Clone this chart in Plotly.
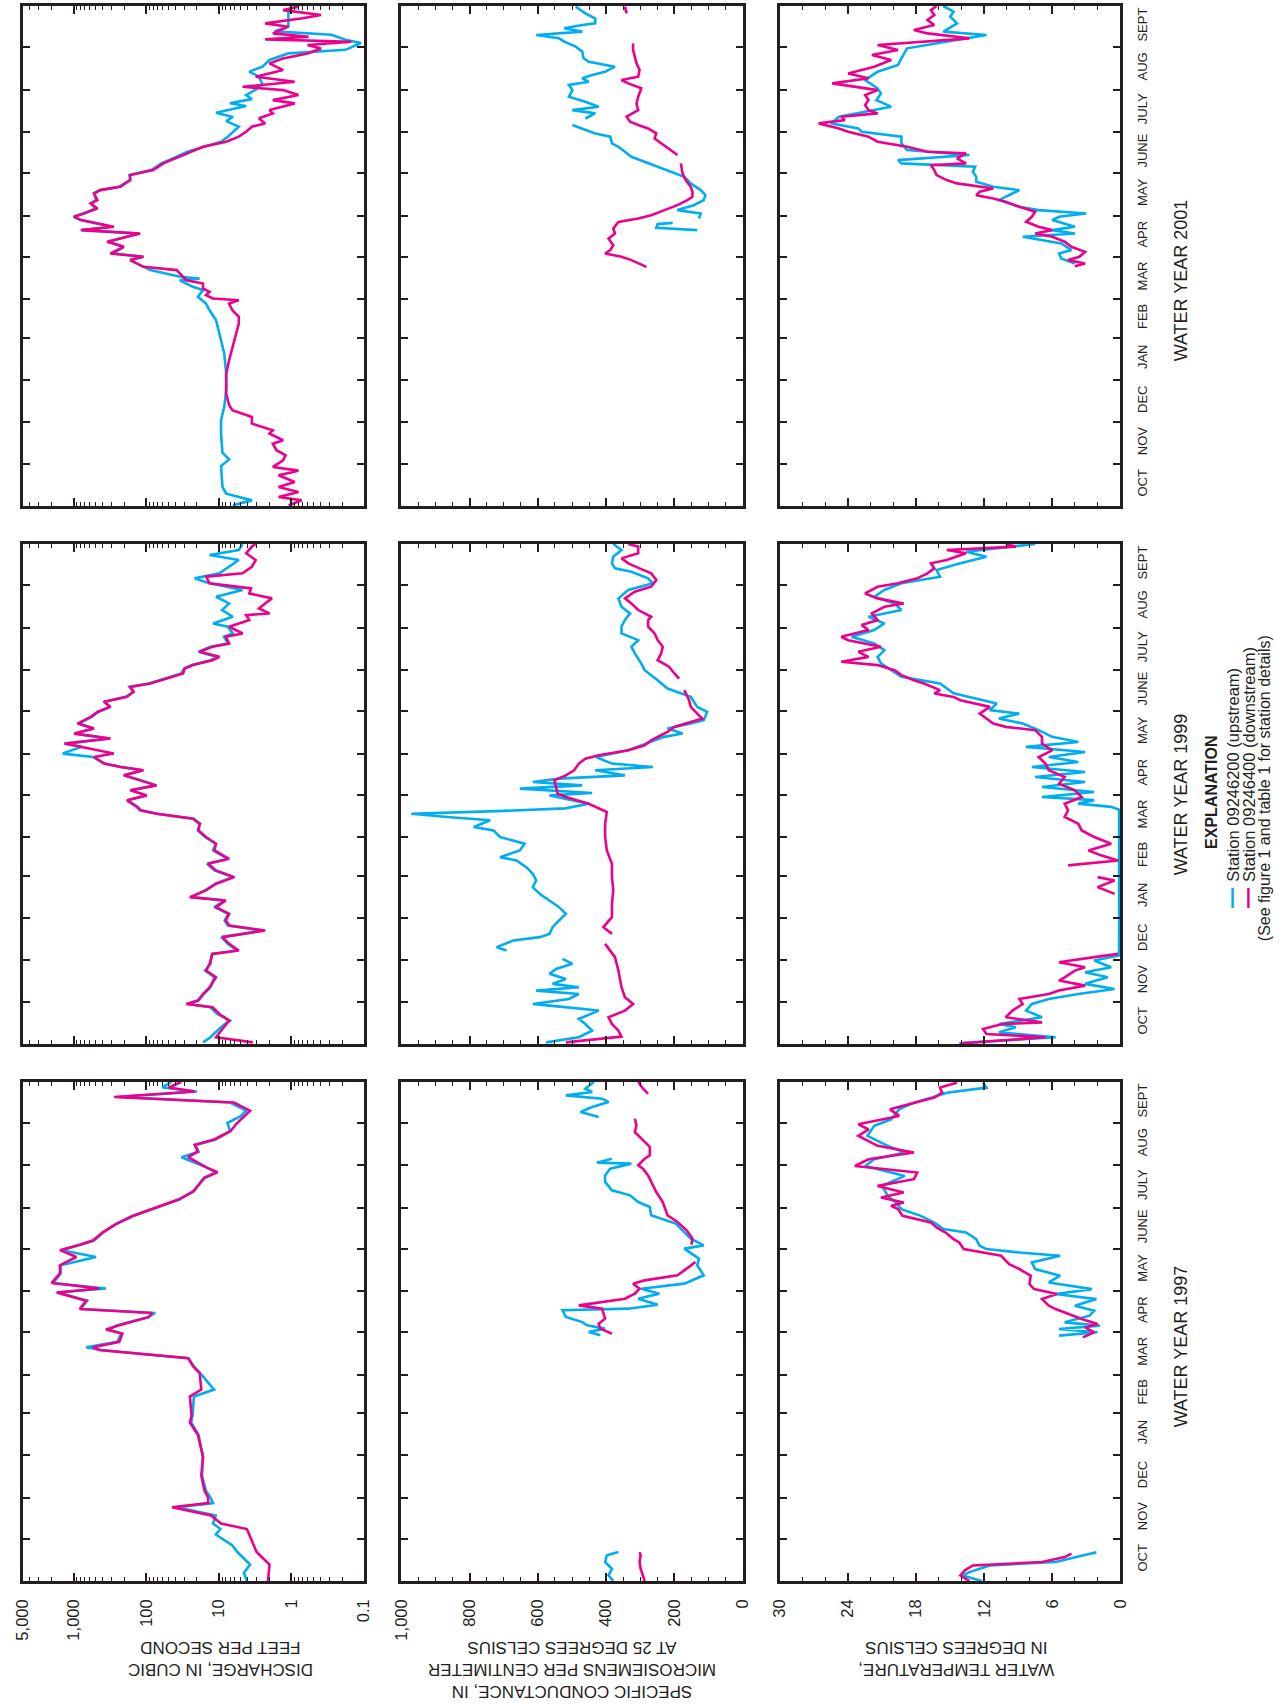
import math
import plotly.graph_objects as go

# ---------------- categories / labels ----------------
MONTHS = ["OCT", "NOV", "DEC", "JAN", "FEB", "MAR", "APR", "MAY", "JUNE", "JULY", "AUG", "SEPT"]
MONTH_DAYS = [31, 30, 31, 31, 28, 31, 30, 31, 30, 31, 31, 30]
YEARS = ["WATER YEAR 2001", "WATER YEAR 1999", "WATER YEAR 1997"]  # top -> bottom rows

Q_TICKS = [5000, 1000, 100, 10, 1, 0.1]
Q_TICKTEXT = ["5,000", "1,000", "100", "10", "1", "0.1"]
C_TICKS = [1000, 800, 600, 400, 200, 0]
C_TICKTEXT = ["1,000", "800", "600", "400", "200", "0"]
T_TICKS = [30, 24, 18, 12, 6, 0]
T_TICKTEXT = ["30", "24", "18", "12", "6", "0"]

TITLES = [
    "DISCHARGE, IN CUBIC<br>FEET PER SECOND",
    "SPECIFIC CONDUCTANCE, IN<br>MICROSIEMENS PER CENTIMETER<br>AT 25 DEGREES CELSIUS",
    "WATER TEMPERATURE,<br>IN DEGREES CELSIUS",
]
LEGEND_UP = "Station 09246200 (upstream)"
LEGEND_DN = "Station 09246400 (downstream)"

# ---------------- data: (day of water year, value); None = missing ----------------
# Water year 1997
Q97_UP = [(0,4.1),(6,4.5),(12,3.7),(18,4.8),(21,5.5),(26,6.5),(30,8.4),(34,11),(38,9.5),(42,12),(48,11),(54,38),(57,12),(61,13),(66,15),(77,17),(91,16.5),(107,19),(116,24),(121,23),(135,22),(140,11.6),(152,18),(157,22),(163,26),(166,110),(169,430),(171,668),(175,250),(181,220),(184,330),(187,250),(193,95),(196,75),(199,800),(205,650),(211,1650),(214,358),(218,1900),(225,1500),(231,1500),(237,490),(242,1450),(246,800),(249,520),(255,390),(261,260),(267,150),(273,72),(279,35),(285,22),(291,18),(295,16),(299,11),(302,14),(310,32.6),(314,19),(319,21),(323,11),(329,7),(335,7.6),(340,5.0),(344,4.2),(350,7),(354,234),(358,20),(361,60),(365,45)]
Q97_DN = [(0,2.1),(12,2.0),(21,3.0),(30,3.5),(38,4.1),(42,9.3),(48,12.8),(54,44),(57,14),(61,14),(66,15.7),(77,17.4),(91,16.5),(107,19.4),(116,25),(121,23.7),(135,25),(140,17.4),(152,18.3),(157,22.5),(163,26.5),(166,114),(169,440),(171,540),(175,234),(181,213),(184,358),(187,234),(193,92),(196,83),(199,824),(205,670),(211,1710),(214,440),(218,2000),(225,1540),(231,1540),(237,914),(242,1540),(246,824),(249,543),(255,397),(261,262),(267,155),(273,75),(279,36),(285,22.5),(291,18.3),(295,15.7),(299,10.4),(302,14.2),(310,26.5),(314,19.4),(319,21.5),(323,11.6),(329,6.9),(335,5.6),(344,3.7),(350,6.2),(354,276),(358,21.5),(361,49),(365,33)]
C97_UP = [(0,379),(4.1,393),(9,383),(13.9,403),(18.8,398),(21.2,364),(100,None),(179.7,417),(182.1,451),(184.6,403),(187,456),(189.4,470),(193.1,518),(198,528),(199.2,335),(202.1,249),(206.5,306),(210.2,244),(213.8,297),(217.5,171),(223.6,114),(230.9,133),(235.8,128),(243.1,171),(245.5,114),(250.4,152),(255.3,171),(261.4,196),(267.5,268),(273.6,272),(277.2,306),(282.1,330),(285.8,383),(291.9,403),(296.7,403),(301.6,388),(305.3,326),(306,427),(308.9,383),(325,None),(339.4,422),(343.1,475),(346.7,441),(350.4,393),(352.8,412),(355.2,518),(357.7,441),(360.1,461),(365,436)]
C97_DN = [(0,287),(4.1,292),(9,299),(13.9,302),(18.8,299),(21.2,302),(100,None),(180.9,383),(184.6,417),(188.2,422),(191.9,403),(199.2,412),(201.6,480),(206.5,345),(210.2,316),(213.8,302),(217.5,321),(219.9,287),(223.6,191),(227.2,171),(233.3,138),(240,None),(246,150),(250.4,147),(256.5,164),(262.6,191),(267.5,220),(272.3,227),(277.2,234),(284.5,253),(291.9,268),(296.7,277),(301.6,292),(304,306),(308.9,287),(311.4,272),(317.5,272),(323.5,297),(328.4,316),(333.3,311),(338.2,316),(345,None),(356.5,277),(360.1,292),(365,306)]
T97_UP = [(0,12.2),(4.1,13.9),(6.5,13.3),(11.4,11.5),(13.9,5.7),(17.5,3.8),(21.1,2.1),(100,None),(179.5,5.4),(181.9,2.0),(184.3,5.4),(186.8,1.8),(189.2,4.9),(194.1,2.7),(197.7,2.3),(201.4,4.0),(206.2,2.1),(209.9,5.7),(213.5,2.5),(218.4,6.3),(223.3,5.3),(228.2,7.5),(233,7.8),(237.9,5.3),(240.3,8.9),(242.8,11.8),(245.2,12.4),(250.1,12.7),(254.9,13.6),(257.4,15.6),(262.2,16.4),(267.1,17.6),(272,19.3),(276.9,19.8),(281.7,20.5),(289,21.0),(296.3,19.0),(303.6,22.5),(308.5,21.7),(313.4,19.0),(318.3,20.5),(325.6,22.3),(332.9,21.7),(337.7,20.2),(345,19.5),(349.9,18.2),(353.6,16.6),(357.2,15.3),(360.9,11.8),(364.5,12.1)]
T97_DN = [(0,13.3),(4.1,14.1),(7.8,13.7),(11.4,13.0),(13.9,6.9),(17.5,4.9),(20,4.3),(100,None),(178.2,3.3),(181.9,2.3),(185.5,3.1),(188,2.0),(191.6,3.4),(195.3,4.6),(198.9,5.7),(201.4,6.3),(206.2,6.9),(209.9,5.6),(213.5,7.6),(217.2,8.0),(223.3,7.9),(228.2,8.9),(231.8,9.8),(237.9,10.5),(242.8,13.8),(247.6,14.2),(250.1,14.7),(254.9,15.4),(258.6,16.2),(262.2,16.7),(267.1,19.2),(272,19.6),(274.4,20.2),(276.9,19.1),(280.5,21.1),(284.2,19.1),(289,21.4),(293.9,18.2),(298.8,17.9),(303.6,23.4),(308.5,22.2),(313.4,18.2),(318.3,21.4),(325.6,23.1),(330.4,22.2),(334.1,23.1),(337.7,20.8),(340.2,19.5),(345,20.3),(349.9,18.2),(353.6,16.4),(357.2,15.7),(360.9,15.9),(364.5,14.4)]

# Water year 1999
Q99_UP = [(1.2,16.5),(4.9,13),(9.7,10.5),(14,8.5),(17.1,7.0),(21.9,10.5),(26.8,13),(29.2,26),(31.7,19),(36.5,16),(41.4,13),(48.7,11.5),(53.6,15.5),(58.5,13),(65.8,12.5),(68.2,5.6),(73.1,7.5),(78,9.2),(82.8,2.5),(86.5,7.5),(90.2,8.3),(95,7.4),(99.9,11.5),(104.8,8.3),(107.2,24),(112.1,15.5),(117,11),(121.8,6.5),(126.7,11.5),(131.6,14.5),(135.2,7.5),(141.3,12),(146.2,11),(151.1,15.5),(155.9,19.5),(160.8,18),(164.5,22),(168.1,70),(170.6,118),(173,130),(177.9,180),(181.5,100),(185.2,160),(188.8,75),(192.5,118),(196.1,200),(199.8,112),(202.2,220),(204.7,370),(209.5,540),(212,1410),(216.9,780),(219.3,1300),(223,330),(226.6,950),(230.3,530),(233.9,860),(238.8,560),(242.4,460),(246.1,320),(249.8,370),(253.4,190),(257.1,150),(260.7,170),(263.2,92),(266.8,54),(270.5,33),(274.1,30),(276.6,23.5),(280.2,13),(282.6,10.5),(286.3,19),(290,13),(292.4,7.5),(297.3,8.5),(299.7,6.4),(304.6,7.5),(307,12),(311.9,6.4),(316.8,9),(321.6,7.2),(326.5,10.9),(331.4,4.7),(336.3,13.4),(339.9,21.5),(343.6,9.8),(348.4,7.2),(353.3,5.3),(357,13.4),(360.6,5.3),(365,4.7)]
Q99_DN = [(1.2,3.4),(4.9,10.9),(9.7,9.3),(17.1,7.2),(21.9,9.8),(26.8,12.2),(29.2,28),(31.7,19.4),(36.5,16.5),(41.4,13.4),(48.7,10.9),(53.6,14.9),(58.5,13.4),(65.8,12.2),(68.2,5.3),(73.1,7.2),(78,8.9),(82.8,2.3),(86.5,7.2),(90.2,8.0),(95,7.2),(99.9,10.9),(104.8,8.0),(107.2,25),(112.1,15),(117,10.9),(121.8,6.1),(126.7,10.9),(131.6,14),(135.2,7.2),(141.3,11.5),(146.2,10.9),(151.1,15),(155.9,19),(160.8,18.4),(164.5,22.7),(168.1,71.6),(170.6,121),(173,134),(177.9,184),(181.5,98),(185.2,166),(188.8,72),(192.5,121),(196.1,204),(199.8,109),(202.2,226),(204.7,382),(209.5,523),(212,279),(216.9,794),(219.3,1340),(223,310),(226.6,980),(230.3,523),(233.9,880),(238.8,580),(242.4,470),(246.1,310),(249.8,382),(253.4,184),(257.1,149),(260.7,166),(263.2,88),(266.8,52),(270.5,31),(274.1,29.5),(276.6,22.7),(280.2,12.2),(282.6,9.8),(286.3,18.4),(290,12.2),(292.4,7.2),(297.3,8.0),(299.7,4.7),(304.6,7.2),(309.5,3.8),(313.1,4.2),(314.3,2.0),(318,2.8),(321.6,2.3),(325.3,1.85),(328.9,3.8),(332.6,3.6),(336.3,13.4),(341.1,14.9),(343.6,4.7),(348.4,3.5),(353.3,3.1),(358.2,4.2),(363.1,3.5),(365,3.1)]
C99_UP = [(1.2,576),(4.9,480),(9.7,441),(14.6,461),(18.3,480),(24.4,422),(28,566),(29.2,615),(32.9,509),(36.5,480),(39,605),(41.4,480),(43.9,557),(47.5,518),(51.2,566),(54.8,547),(58.5,499),(62.1,528),(65,None),(68.2,692),(70.7,721),(75.5,672),(78,595),(80.4,566),(85.3,557),(90.2,538),(95,518),(99.9,538),(104.8,566),(109.6,595),(114.5,615),(119.4,605),(124.3,615),(129.1,634),(134,663),(136.4,711),(141.3,653),(146.2,639),(151.1,711),(155.9,730),(158.4,788),(163.3,740),(165.7,865),(168.1,971),(170,720),(172,520),(175.4,451),(177.9,499),(181.5,566),(183.2,441),(186.4,653),(188.8,470),(191.3,615),(193.7,538),(196.1,345),(199.8,432),(202.2,263),(204.7,383),(209.5,430),(214.4,335),(224.2,230),(226.6,176),(230.3,220),(233.9,152),(236.4,114),(242.4,104),(246.1,133),(253.4,152),(259.5,220),(265.6,249),(272.9,287),(277.8,297),(285.1,316),(290,326),(294.8,306),(299.7,355),(304.6,355),(309.5,345),(314.3,330),(319.2,355),(325.3,364),(331.4,335),(336.3,263),(339.9,277),(344.8,326),(347.2,374),(350.9,383),(355.7,379),(360.6,355),(365,379)]
C99_DN = [(1.2,518),(5.4,355),(9.7,364),(14.6,383),(19.5,393),(24.4,345),(29.2,321),(34.1,345),(41.4,355),(53.6,364),(63.4,374),(73.1,403),(76.5,None),(80.4,383),(85.3,408),(92.6,383),(102.3,383),(112.1,379),(121.8,383),(131.6,383),(141.3,398),(151.1,403),(160.8,403),(169.3,398),(171.8,422),(175.4,451),(180.3,518),(182.7,542),(187.6,547),(192.5,552),(196.1,518),(199.8,494),(204.7,480),(208.3,461),(210.8,422),(214.4,335),(218.1,287),(221.7,268),(225.4,239),(227.8,220),(231.5,200),(235.1,152),(237.6,118),(241.2,133),(246.1,152),(251,157),(258.3,171),(262,None),(266.8,186),(270.5,200),(275.3,215),(280.2,249),(285.1,239),(290,234),(294.8,249),(299.7,258),(304.6,277),(309.5,277),(311.9,268),(316.8,306),(321.6,326),(325.3,345),(330.2,316),(333.8,268),(338.7,253),(343.6,268),(347.2,302),(350.9,335),(354.5,355),(358.2,306),(363.1,306),(365,335)]
T99_UP = [(0.5,14.2),(4.9,5.7),(8.5,10.7),(12.2,9.2),(14.6,10.7),(19.5,6.9),(24.4,8.3),(29.2,7.8),(32.9,6.3),(36.5,3.7),(40.2,0.5),(43.9,3.1),(48.7,1.1),(52.4,3.1),(56,0.8),(60.9,2.3),(64.6,0.1),(171,0.1),(173.1,0.8),(175.5,3.7),(178,2.3),(180.3,6.9),(184,2.3),(187.6,6.9),(191.3,3.1),(194.9,7.5),(198.6,3.1),(202.2,7.8),(205.9,3.7),(209.5,6.3),(213.2,3.1),(216.9,8.3),(220.5,3.7),(224.2,6.0),(229.1,7.2),(233.9,8.6),(237.6,10.7),(241.2,8.9),(243.7,11.5),(248.5,10.9),(256,14.7),(263.2,15.9),(268.1,19.3),(272.9,20.2),(277.8,21.1),(282.6,21.4),(287.5,20.8),(292.4,21.7),(297.3,23.7),(302.2,21.7),(307,20.8),(311.9,22.2),(316.8,19.3),(321.6,19.9),(326.5,21.7),(331.4,20.8),(336.3,19.3),(341.1,15.9),(346,16.2),(350.9,14.1),(355.7,11.8),(359.4,13.6),(363.1,9.5),(365,7.5)]
T99_DN = [(0.5,14.1),(4.9,6.6),(7.3,11.8),(11,12.1),(14.6,10.4),(15.8,6.9),(19.5,10.1),(24.4,9.5),(29.2,8.6),(32.9,8.9),(36.5,6.3),(39,5.4),(42.6,3.1),(46.3,5.4),(48.7,4.9),(53.6,4.0),(56,3.1),(59.7,5.4),(63.4,2.3),(65.8,0.2),(85,None),(109.6,0.5),(114.5,2.0),(119.4,0.5),(121.8,2.0),(126,None),(130.4,4.6),(134,0.2),(137.7,1.7),(141.3,2.8),(146.2,0.8),(151.1,2.3),(155.9,3.4),(160.8,3.7),(165.7,4.9),(170.6,4.6),(175.4,4.9),(180.3,3.4),(185.2,4.0),(190,5.4),(194.9,4.9),(199.8,6.3),(204.7,6.6),(209.5,7.2),(214.4,6.0),(219.3,6.9),(224.2,6.9),(229.1,7.5),(231.5,10.1),(233.9,11.2),(237.6,11.8),(241.2,12.4),(246.1,11.5),(248.5,12.7),(251,14.1),(253.4,14.7),(255.8,16.4),(258.3,15.9),(263.2,17.3),(265.6,18.2),(269.3,19.3),(272.9,19.9),(276.6,21.4),(279,24.6),(282.6,22.2),(286.3,23.1),(290,21.1),(294.8,24.0),(297.3,24.6),(302.2,22.2),(305.8,22.8),(309.5,21.4),(314.3,21.9),(319.2,20.8),(321.6,19.1),(325.3,21.4),(328.9,22.5),(333.8,21.4),(336.3,19.6),(339.9,17.9),(343.6,17.0),(347.2,16.4),(350.9,16.7),(353.3,15.3),(358.2,13.6),(360.6,15.3),(363.1,9.2),(365,10.1)]

# Water year 2001
Q01_UP = [(0.5,6.4),(4.1,3.5),(9,7.9),(13.9,8.9),(29.2,9.3),(34,7.2),(38.9,8.9),(52.8,9.3),(62.6,9.3),(72.4,8.4),(84.5,7.9),(96.6,7.9),(111.3,8.4),(125.9,9.8),(135.6,10.9),(142.9,13.4),(147.8,15),(152.7,19.4),(157.6,16.5),(160,22.7),(164.8,34.5),(166,18.4),(167.3,34),(172.2,88),(174.6,109),(179.5,166),(181.9,109),(184.3,280),(189.2,204),(192.9,330),(198.9,130),(201.4,750),(203.8,300),(208.7,794),(211.1,1000),(213.5,716),(217.2,500),(220.9,580),(223.3,490),(228.2,523),(230.6,440),(233,240),(237.9,166),(241.6,170),(245.2,85),(250.1,62),(255,38),(258.6,27),(262.2,16),(265.9,9.3),(269.6,7.5),(273.2,6.4),(276.9,5.3),(281,7.9),(284,6.4),(287,10.9),(289.5,6.4),(292,4.2),(294,7),(297,3.5),(300,4.2),(304,3.1),(308,2.5),(313.4,2.8),(317.1,3.8),(320.7,2.5),(325.6,2.0),(330.4,1.1),(333,0.18),(338,0.11),(340.4,0.18),(344,0.28),(346.5,1.7),(349.9,1.1),(355,1.1),(360,1.1),(364.5,1.0)]
Q01_DN = [(0.5,1.09),(4.1,0.72),(6.6,1.5),(10.2,0.8),(13.9,1.5),(17.5,0.9),(22.4,1.5),(25.8,0.8),(28.5,1.8),(33.4,1.3),(37,1.2),(40.7,1.6),(45.5,1.8),(48,1.3),(52.8,2.0),(55.3,1.8),(60.1,3.5),(65,3.5),(69.9,6.5),(73.5,7.2),(77.2,7.5),(82,7.9),(89.3,7.9),(96.6,7.9),(106.4,7.2),(116.1,6.5),(125.9,5.8),(133.2,5.3),(138.1,5.3),(142.9,6.5),(147.8,7.2),(150.2,5.3),(151.5,12),(153.9,15),(156.3,13.4),(158.8,16.5),(162.4,16.5),(164.8,28),(167.3,31),(172.2,38),(174.6,109),(179.5,166),(181.9,109),(184.3,310),(189.2,204),(192.9,345),(198.9,121),(201.4,794),(203.8,279),(208.7,794),(211.1,980),(213.5,716),(217.2,470),(220.9,580),(223.3,470),(228.2,523),(230.6,424),(233,226),(237.9,166),(241.6,166),(245.2,80),(250.1,58),(255,35),(258.6,25),(262.2,16.5),(265.9,7.9),(269.6,5.3),(273.2,4.2),(276.9,3.5),(279.3,2.3),(283,2.8),(286.6,1.8),(289,2.0),(293.9,0.9),(296.3,1.8),(300,0.8),(303.6,1.3),(306,4.7),(309.7,0.9),(313.4,3.1),(318.2,1.3),(323.1,2.0),(326.7,1.3),(330.4,0.6),(334,0.39),(336.5,0.6),(338.9,0.149),(340.6,2.3),(342.6,0.58),(345,1.8),(349.9,1.1),(352.3,2.3),(356,0.7),(358.4,0.39),(362,1.3),(364.5,0.8)]
C01_UP = [(201.4,133),(203.1,253),(205.8,249),(206.7,205),(208,None),(209.9,128),(213.5,123),(216,191),(219.6,143),(223.3,114),(226.9,109),(230.6,123),(235.5,152),(240.3,171),(244,210),(247.6,249),(251.3,287),(254.9,326),(258.6,345),(262.2,364),(264.7,383),(269.6,388),(272,432),(274.4,461),(276.9,489),(278.1,499),(280,None),(282.9,461),(286.6,432),(289,499),(291.5,422),(295.1,461),(298.8,509),(303.6,499),(307.3,509),(309.7,451),(312.2,470),(314.6,441),(317,403),(320.7,374),(324.3,451),(326.8,466),(331.6,470),(335.3,489),(339,523),(341.4,538),(343.8,605),(346.3,470),(348.7,523),(351.1,470),(352.3,432),(355.9,432),(359.6,461),(364.5,489)]
C01_DN = [(174.6,282),(177,302),(179.5,326),(181.9,355),(184.3,403),(186.8,388),(190.4,379),(195.3,393),(198.9,374),(202.6,379),(207.4,364),(209.9,306),(212.3,268),(216,229),(219.6,191),(223.3,162),(225.7,147),(229.4,147),(233,152),(237.9,167),(242.8,176),(250.1,181),(253,None),(256.2,191),(259.8,210),(264.7,239),(268.3,258),(272,253),(275.6,277),(278.1,306),(280.5,330),(284.2,340),(289,306),(293.9,311),(298.8,306),(304.9,297),(308.5,335),(311,355),(313.4,306),(318.3,302),(323.1,311),(328,316),(332.9,321),(337.7,321),(345,None),(359.6,340),(364.5,345)]
T01_UP = [(177,4.0),(180.7,5.2),(184.3,5.4),(186.8,4.3),(191.6,5.2),(196.5,8.6),(198.9,4.0),(201.4,6.0),(203.8,4.0),(208.7,6.0),(211.1,5.4),(213.5,3.0),(216,7.2),(218.4,8.9),(223.3,10.7),(228.2,9.5),(230.6,8.9),(233,11.2),(236.7,12.7),(240.3,12.7),(244,13.0),(247.6,12.8),(250.1,19.3),(252.5,19.6),(256.2,13.3),(259.8,18.8),(264.7,19.3),(269.6,19.3),(273.2,22.8),(275.6,23.1),(279.3,25.5),(284.2,24.8),(291.5,20.2),(296.3,21.5),(301.2,21.1),(304.9,21.4),(310.9,22.5),(317,21.4),(322,19.6),(326.8,19.3),(334.1,18.8),(343.8,11.8),(346.3,15.6),(352.3,14.4),(357.2,15.0),(360.9,14.7),(365,15.6)]
T01_DN = [(175,4.0),(177,3.1),(179.5,4.6),(181.9,3.6),(185.5,3.1),(189.2,4.3),(192.9,4.9),(196.5,6.0),(198.9,7.5),(201.4,6.0),(203.8,7.2),(207.5,8.3),(211.1,7.8),(214.8,7.5),(218.4,8.9),(222.1,10.1),(224.5,11.2),(226.9,12.7),(229.4,12.4),(231.8,11.2),(235.5,14.4),(237.9,15.3),(241.6,16.2),(245.2,16.4),(248.8,16.7),(250.1,13.6),(253.7,14.4),(257.4,13.6),(258.6,17.0),(262.2,18.8),(265.9,21.4),(269.6,22.2),(273.2,24.0),(275.6,24.8),(279.3,26.6),(281.7,24.3),(284.2,24.6),(286.6,21.4),(289,22.2),(292.7,22.5),(296.3,22.2),(300,22.5),(303.6,21.4),(308.5,25.4),(312.2,22.2),(315.8,24.0),(320.7,21.7),(325.6,20.2),(329.2,21.9),(332.9,19.6),(336.5,21.4),(341.4,13.3),(345,17.0),(347.5,18.2),(351.1,16.4),(354.8,17.0),(358.4,16.4),(362,16.7),(365,16.2)]

# ---------------- styling ----------------
W, H = 1286, 1704
BLUE = "#00AEEF"
PINK = "#EC008C"
INK = "#231F20"
FONT = "Liberation Sans, Arial, Helvetica, sans-serif"

COL_PX = [(13, 359), (397, 743), (781, 1126)]
ROW_PX = [(6, 506), (544, 1044), (1082, 1581)]
YEAR_LABEL_Y = [280, 794, 1346]


def fx(p):
    return p / W


def fy(p):
    return 1 - p / H


bounds = [0]
for d in MONTH_DAYS:
    bounds.append(bounds[-1] + d)
month_mid = [(bounds[i] + bounds[i + 1]) / 2 for i in range(12)]
month_edges = bounds[1:-1]

Q_MINOR = [d * m for d in (0.1, 1, 10, 100, 1000) for m in range(2, 10) if d * m < 5000]
C_MINOR = [v for v in range(50, 1000, 50) if v % 200]
T_MINOR = [v for v in range(2, 30, 2) if v % 6]

PANELS = [
    [(Q01_UP, Q01_DN), (C01_UP, C01_DN), (T01_UP, T01_DN)],
    [(Q99_UP, Q99_DN), (C99_UP, C99_DN), (T99_UP, T99_DN)],
    [(Q97_UP, Q97_DN), (C97_UP, C97_DN), (T97_UP, T97_DN)],
]

fig = go.Figure()
layout = {}
for r in range(3):
    for c in range(3):
        k = r * 3 + c + 1
        xn = "x" if k == 1 else f"x{k}"
        yn = "y" if k == 1 else f"y{k}"
        up, dn = PANELS[r][c]
        for pairs, color in ((up, BLUE), (dn, PINK)):
            fig.add_trace(go.Scatter(
                x=[v for _, v in pairs], y=[d for d, _ in pairs],
                mode="lines", line=dict(color=color, width=2.6),
                xaxis=xn, yaxis=yn, showlegend=False, hoverinfo="skip"))

        x0, x1 = COL_PX[c]
        y0, y1 = ROW_PX[r]
        xa = dict(
            domain=[fx(x0), fx(x1)], anchor=yn,
            showline=True, linecolor=INK, linewidth=2.5, mirror="allticks",
            ticks="inside", ticklen=8, tickwidth=1.6, tickcolor=INK,
            showgrid=False, zeroline=False, tickangle=-90,
            tickfont=dict(size=16.5, color=INK, family=FONT),
            ticklabelstandoff=9, showticklabels=(r == 2), tickmode="array",
            fixedrange=True,
        )
        minor = dict(tickmode="array", ticks="inside", ticklen=4, tickwidth=1.2, tickcolor=INK)
        if c == 0:
            xa.update(type="log", range=[math.log10(5000), -1], tickvals=Q_TICKS, ticktext=Q_TICKTEXT,
                      minor=dict(minor, tickvals=Q_MINOR))
        elif c == 1:
            xa.update(range=[1000, 0], tickvals=C_TICKS, ticktext=C_TICKTEXT,
                      minor=dict(minor, tickvals=C_MINOR))
        else:
            xa.update(range=[30, 0], tickvals=T_TICKS, ticktext=T_TICKTEXT,
                      minor=dict(minor, tickvals=T_MINOR))
        ya = dict(
            domain=[fy(y1), fy(y0)], anchor=xn, range=[0, 365],
            showline=True, linecolor=INK, linewidth=2.5, mirror="allticks",
            tickmode="array", tickvals=month_mid, ticktext=MONTHS, ticks="",
            showticklabels=(c == 2), side="right" if c == 2 else "left",
            tickangle=-90, tickfont=dict(size=13, color=INK, family=FONT),
            ticklabelstandoff=8, showgrid=False, zeroline=False, fixedrange=True,
            minor=dict(tickmode="array", tickvals=month_edges, ticks="inside",
                       ticklen=7, tickwidth=1.6, tickcolor=INK),
        )
        layout["xaxis" if k == 1 else f"xaxis{k}"] = xa
        layout["yaxis" if k == 1 else f"yaxis{k}"] = ya

annotations = []
# axis titles (upside down, as in the rotated page)
for c, (title, xc) in enumerate(zip(TITLES, [214, 570, 960])):
    annotations.append(dict(
        text=title, x=fx(xc), y=fy(1636), xref="paper", yref="paper",
        xanchor="center", yanchor="top", textangle=180, showarrow=False,
        align="center", font=dict(size=17, color=INK, family=FONT)))
# water-year labels
for r, name in enumerate(YEARS):
    annotations.append(dict(
        text=name, x=fx(1188), y=fy(YEAR_LABEL_Y[r]), xref="paper", yref="paper",
        xanchor="center", yanchor="middle", textangle=-90, showarrow=False,
        font=dict(size=18, color=INK, family=FONT)))
# explanation
annotations.append(dict(
    text="<b>EXPLANATION</b>", x=fx(1218), y=fy(792), xref="paper", yref="paper",
    xanchor="center", yanchor="middle", textangle=-90, showarrow=False,
    font=dict(size=16, color=INK, family=FONT)))
for txt, xc in ((LEGEND_UP, 1240), (LEGEND_DN, 1256)):
    annotations.append(dict(
        text=txt, x=fx(xc), y=fy(884), xref="paper", yref="paper",
        xanchor="center", yanchor="bottom", textangle=-90, showarrow=False,
        font=dict(size=16.5, color=INK, family=FONT)))
annotations.append(dict(
    text="(See figure 1 and table 1 for station details)", x=fx(1272), y=fy(788),
    xref="paper", yref="paper", xanchor="center", yanchor="middle", textangle=-90,
    showarrow=False, font=dict(size=16, color=INK, family=FONT)))

shapes = []
for xc, color in ((1240, BLUE), (1256, PINK)):
    shapes.append(dict(type="line", xref="paper", yref="paper",
                       x0=fx(xc), x1=fx(xc), y0=fy(888), y1=fy(908),
                       line=dict(color=color, width=2.5)))

fig.update_layout(
    width=W, height=H, margin=dict(l=0, r=0, t=0, b=0),
    paper_bgcolor="white", plot_bgcolor="white",
    font=dict(family=FONT, color=INK),
    annotations=annotations, shapes=shapes, **layout)

fig.write_html("out.html", config={"displayModeBar": False},
               post_script="document.body.style.margin='0';document.body.style.overflow='hidden';")
